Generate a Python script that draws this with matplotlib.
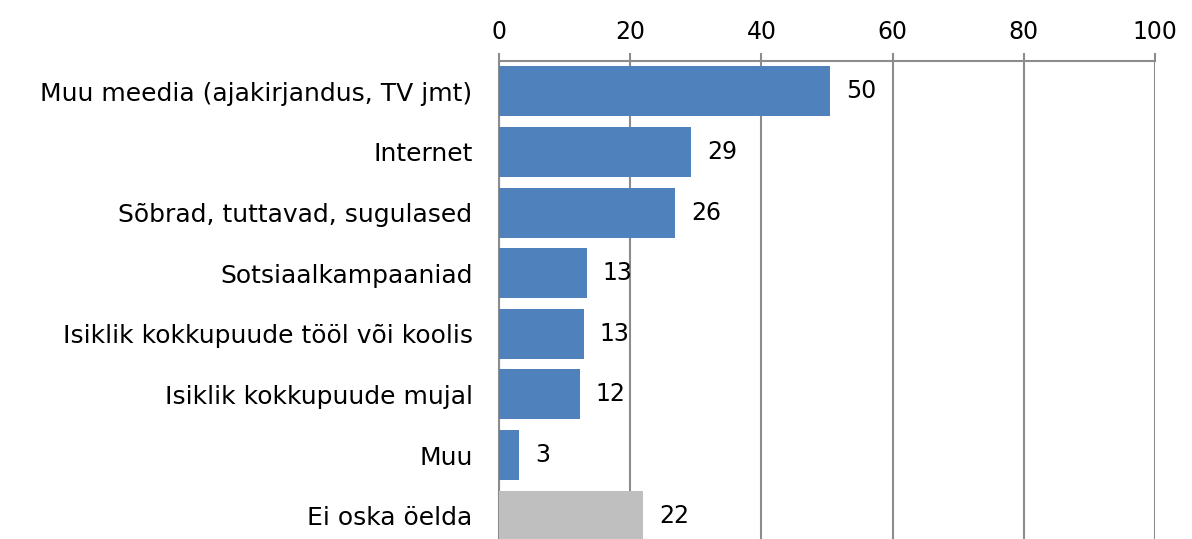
import matplotlib.pyplot as plt

categories = ['Muu meedia (ajakirjandus, TV jmt)', 'Internet', 'Sõbrad, tuttavad, sugulased',
              'Sotsiaalkampaaniad', 'Isiklik kokkupuude tööl või koolis', 'Isiklik kokkupuude mujal',
              'Muu', 'Ei oska öelda']
values = [50.5, 29.3, 26.8, 13.4, 12.9, 12.3, 3.1, 22.0]
labels = ['50', '29', '26', '13', '13', '12', '3', '22']
colors = ['#4F81BD'] * 7 + ['#BFBFBF']

plt.rcParams['font.family'] = 'DejaVu Sans'

fig = plt.figure(figsize=(11.92, 5.39), dpi=100)
ax = fig.add_axes([499 / 1192, -7 / 539, 656 / 1192, 485 / 539])

pos = list(range(len(categories)))
ax.barh(pos, values, height=0.825, color=colors, zorder=3)
ax.set_ylim(len(categories) - 0.5, -0.5)
ax.set_xlim(0, 100)

# value labels to the right of the bars
for p, v, lab in zip(pos, values, labels):
    ax.annotate(lab, (v, p), xytext=(11.5, 0), textcoords='offset points',
                va='center', ha='left', fontsize=17, zorder=4)

ax.set_yticks(pos)
ax.set_yticklabels(categories, fontsize=18)
ax.tick_params(axis='y', length=0, pad=19)

ax.xaxis.tick_top()
ax.set_xticks(range(0, 101, 20))
ax.tick_params(axis='x', labelsize=17, length=6, width=1.5, color='#8c8c8c', pad=6)
ax.grid(axis='x', color='#8c8c8c', linewidth=1.5, zorder=1)

for s in ['right', 'bottom']:
    ax.spines[s].set_visible(False)
for s in ['top', 'left']:
    ax.spines[s].set_color('#8c8c8c')
    ax.spines[s].set_linewidth(1.5)

fig.savefig('out.png', dpi=100)
